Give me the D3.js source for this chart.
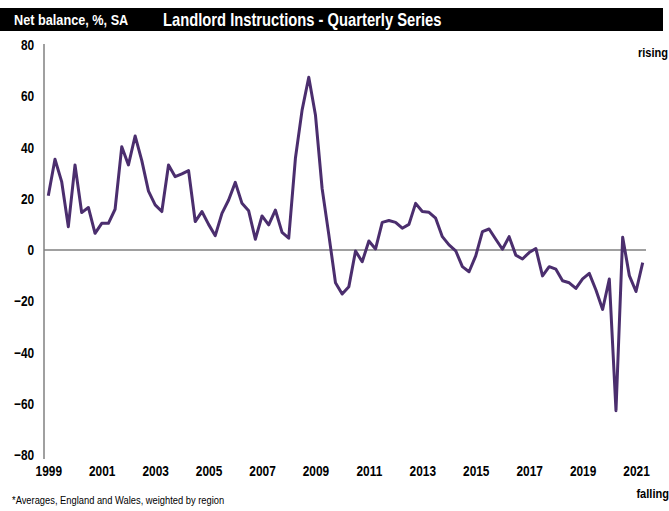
<!DOCTYPE html>
<html lang="en">
<head>
<meta charset="UTF-8">
<title>Landlord Instructions - Quarterly Series</title>
<script src="https://cdn.jsdelivr.net/npm/d3@7"></script>
<style>
    body { margin: 0; background: #fff; }
    svg text {
        font-family: "Liberation Sans", Arial, sans-serif;
    }
    .tick text { font-weight: bold; font-size: 14.5px; fill: #000; }
</style>
</head>
<body>
<svg id="chart" width="669" height="511"></svg>
<script>
    // quarterly series, first point = 1999 Q1
    var startYear = 1999;
    var balance = [
        21.2, 35.4, 26.7, 9.1, 33.2, 14.6, 16.6, 6.5,
        10.4, 10.4, 15.9, 40.3, 33.2, 44.5, 34.9, 23.0,
        17.6, 15.0, 33.2, 28.6, 29.7, 31.0, 11.1, 15.0,
        10.0, 5.6, 14.3, 19.5, 26.4, 18.2, 15.3, 4.2,
        13.3, 9.8, 15.6, 6.9, 4.6, 35.8, 54.6, 67.4,
        52.7, 24.0, 6.0, -12.8, -17.2, -14.3, -0.4, -4.6,
        3.5, 0.4, 10.8, 11.5, 10.8, 8.5, 10.0, 18.2,
        15.0, 14.7, 12.4, 5.2, 2.0, -0.3, -6.5, -8.5,
        -2.3, 7.2, 8.2, 4.2, 0.3, 5.2, -2.0, -3.5,
        -1.0, 0.6, -10.1, -6.5, -7.5, -12.0, -12.8, -15.0,
        -11.3, -9.1, -15.6, -23.2, -11.3, -62.7, 5.0, -10.0,
        -16.2, -4.9
    ];
    var yearTicks = [1999, 2001, 2003, 2005, 2007, 2009, 2011, 2013, 2015, 2017, 2019, 2021];
    var valueTicks = [-80, -60, -40, -20, 0, 20, 40, 60, 80];

    var narrow = 0.82; // Arial Narrow look from Liberation Sans

    var svg = d3.select('#chart');

    var x = d3.scaleLinear()
        .domain([startYear, startYear + (balance.length - 1) / 4])
        .range([48.3, 642.7]);
    var y = d3.scaleLinear()
        .domain([-80, 80])
        .range([455, 45]);

    function label(px, py, txt, size, bold, anchor, color) {
        return svg.append('text')
            .attr('transform', 'translate(' + px + ',' + py + ') scale(' + narrow + ',1)')
            .attr('text-anchor', anchor || 'start')
            .attr('fill', color || '#000')
            .style('font-size', size + 'px')
            .style('font-weight', bold ? 'bold' : 'normal')
            .text(txt);
    }

    // header bar
    svg.append('rect')
        .attr('x', 0).attr('y', 8)
        .attr('width', 663).attr('height', 23)
        .attr('fill', '#000');
    label(14, 25, 'Net balance, %, SA', 15.5, true, 'start', '#fff');
    label(163, 26, 'Landlord Instructions - Quarterly Series', 18, true, 'start', '#fff');

    // y axis
    var yAxis = svg.append('g')
        .attr('transform', 'translate(44,0)')
        .call(d3.axisLeft(y).tickValues(valueTicks).tickSize(0).tickPadding(12));
    yAxis.select('.domain').attr('stroke', '#808080').attr('stroke-width', 1.5)
        .attr('d', 'M0,' + (y(80) - 1) + 'V' + (y(-80) + 4));
    yAxis.selectAll('.tick text').attr('transform', 'scale(' + narrow + ',1)');

    // x labels (no axis line)
    var xAxis = svg.append('g')
        .attr('transform', 'translate(0,462)')
        .call(d3.axisBottom(x).tickValues(yearTicks).tickFormat(d3.format('d')).tickSize(0).tickPadding(4));
    xAxis.select('.domain').remove();
    xAxis.selectAll('.tick text').attr('transform', 'scale(' + narrow + ',1)');

    // zero line
    svg.append('line')
        .attr('x1', 44).attr('x2', 646)
        .attr('y1', y(0)).attr('y2', y(0))
        .attr('stroke', '#808080').attr('stroke-width', 1.5);

    var line = d3.line()
        .x(function (d, i) { return x(startYear + i / 4); })
        .y(function (d) { return y(d); });

    svg.append('path')
        .attr('d', line(balance))
        .attr('fill', 'none')
        .attr('stroke', '#4b2e6e')
        .attr('stroke-width', 3)
        .attr('stroke-linejoin', 'round');

    label(668, 57, 'rising', 13.5, true, 'end');
    label(669, 498, 'falling', 13.5, true, 'end');

    label(12, 504, '*Averages, England and Wales, weighted by region', 11.4, false, 'start');
</script>
</body>
</html>
